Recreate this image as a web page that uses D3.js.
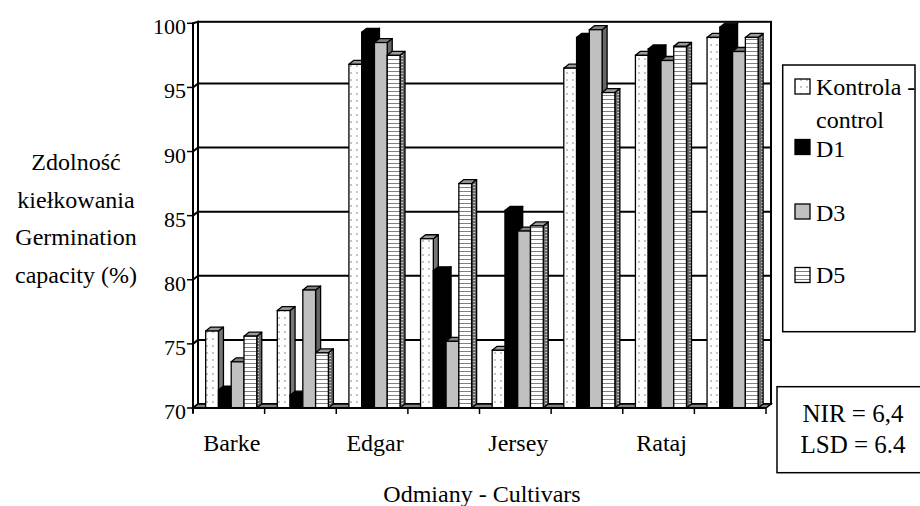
<!DOCTYPE html>
<html><head><meta charset="utf-8">
<script src="https://d3js.org/d3.v7.min.js"></script>
</head><body style="margin:0">
<svg id="chart" width="920" height="506"></svg>
<script>
// ---- data ----
const categoryLabels = ["Barke", "", "Edgar", "", "Jersey", "", "Rataj", ""];
const seriesNames = ["Kontrola - control", "D1", "D3", "D5"];
const kontrola = [76.0, 77.6, 96.8, 83.2, 74.5, 96.5, 97.5, 98.9];
const d1 = [71.4, 71.0, 99.3, 80.7, 85.4, 98.9, 98.0, 99.7];
const d3v = [73.6, 79.2, 98.5, 75.2, 83.8, 99.5, 97.1, 97.8];
const d5 = [75.6, 74.3, 97.5, 87.5, 84.2, 94.6, 98.2, 98.9];
const yTicks = [70, 75, 80, 85, 90, 95, 100];
const nirText = ["NIR = 6,4", "LSD = 6.4"];
const yTitle = ["Zdolność", "kiełkowania", "Germination", "capacity (%)"];
const xTitle = "Odmiany - Cultivars";

const seriesValues = [kontrola, d1, d3v, d5];
const famName = ["Liberation", "Serif"].join(" ");
const FONT = `'${famName}', serif`;

const svg = d3.select("#chart");
const defs = svg.append("defs");
function txt(sel, size) {
  return sel.attr("font-family", FONT).style("font-family", FONT, "important").attr("font-size", size);
}

// patterns
const pDots = defs.append("pattern").attr("id","dots").attr("patternUnits","userSpaceOnUse")
  .attr("width",6).attr("height",7);
pDots.append("rect").attr("width",6).attr("height",7).attr("fill","#fff");
pDots.append("rect").attr("x",2.5).attr("y",2).attr("width",1).attr("height",2).attr("fill","#8a8a8a");

const pStripes = defs.append("pattern").attr("id","stripes").attr("patternUnits","userSpaceOnUse")
  .attr("width",4).attr("height",4);
pStripes.append("rect").attr("width",4).attr("height",4).attr("fill","#fff");
pStripes.append("rect").attr("y",3).attr("width",4).attr("height",1.2).attr("fill","#808080");

const pSide = defs.append("pattern").attr("id","stripeSide").attr("patternUnits","userSpaceOnUse")
  .attr("width",4).attr("height",3);
pSide.append("rect").attr("width",4).attr("height",3).attr("fill","#6a6a6a");
pSide.append("rect").attr("x",1.5).attr("y",1).attr("width",1.2).attr("height",1).attr("fill","#fff");

const styles = [
  {front:"url(#dots)", top:"#9a9a9a", side:"#777"},
  {front:"#000", top:"#000", side:"#000"},
  {front:"#c0c0c0", top:"#808080", side:"#666"},
  {front:"url(#stripes)", top:"#9a9a9a", side:"url(#stripeSide)"}
];

// ---- scales ----
const left = 193, right = 766, depthX = 5, depthY = 4;
const y = d3.scaleLinear().domain([70, 100]).range([408, 23.3]);
const y0 = y(70);
const x0 = d3.scaleBand().domain(d3.range(categoryLabels.length)).range([left, right]).padding(0);
const bw = x0.bandwidth();
const xs = d3.scaleBand().domain(d3.range(seriesNames.length)).range([bw*0.177, bw*0.89]).padding(0);
const barW = xs.bandwidth();

const backTop = y(100) - 1.5;

// left wall
svg.append("polygon")
  .attr("points", [[left, y(100)], [left+depthX, backTop], [left+depthX, y0-depthY], [left, y0]].join(" "))
  .attr("fill","#fff").attr("stroke","#000").attr("stroke-width",2);
// back wall
svg.append("rect").attr("x", left+depthX).attr("y", backTop)
  .attr("width", right+depthX-(left+depthX)).attr("height", y0-depthY-backTop)
  .attr("fill","#fff").attr("stroke","#000").attr("stroke-width",2);

// gridlines
const gridVals = yTicks.filter(v => v > 70 && v < 100);
svg.append("g").selectAll("line.gb").data(gridVals).join("line")
  .attr("x1", left+depthX).attr("x2", right+depthX)
  .attr("y1", d => y(d)-depthY).attr("y2", d => y(d)-depthY)
  .attr("stroke","#000").attr("stroke-width",2);
svg.append("g").selectAll("line.gl").data(gridVals).join("line")
  .attr("x1", left).attr("x2", left+depthX)
  .attr("y1", d => y(d)).attr("y2", d => y(d)-depthY)
  .attr("stroke","#000").attr("stroke-width",2);

// floor
svg.append("polygon")
  .attr("points", [[left, y0], [left+depthX, y0-depthY], [right+depthX, y0-depthY], [right, y0]].join(" "))
  .attr("fill","#808080").attr("stroke","#000").attr("stroke-width",1.5);

// bars
const bars = svg.append("g");
categoryLabels.forEach((lab, ci) => {
  seriesValues.forEach((vals, si) => {
    const v = vals[ci];
    const bx = x0(ci) + xs(si);
    const by = y(v);
    const st = styles[si];
    const g = bars.append("g");
    g.append("polygon")
      .attr("points", [[bx+barW, by], [bx+barW+depthX, by-depthY], [bx+barW+depthX, y0-depthY], [bx+barW, y0]].join(" "))
      .attr("fill", st.side).attr("stroke","#000").attr("stroke-width",1.3).attr("stroke-linejoin","round");
    g.append("polygon")
      .attr("points", [[bx, by], [bx+depthX, by-depthY], [bx+barW+depthX, by-depthY], [bx+barW, by]].join(" "))
      .attr("fill", st.top).attr("stroke","#000").attr("stroke-width",1.3).attr("stroke-linejoin","round");
    g.append("rect").attr("x", bx).attr("y", by).attr("width", barW).attr("height", y0-by)
      .attr("fill", st.front).attr("stroke","#000").attr("stroke-width",1.3);
  });
});

// y axis
svg.append("line").attr("x1",left).attr("x2",left).attr("y1",y(100)).attr("y2",y0+5)
  .attr("stroke","#000").attr("stroke-width",2);
svg.append("g").selectAll("line").data(yTicks).join("line")
  .attr("x1", left-6).attr("x2", left).attr("y1", d=>y(d)).attr("y2", d=>y(d))
  .attr("stroke","#000").attr("stroke-width",1.5);
txt(svg.append("g").selectAll("text").data(yTicks).join("text")
  .attr("x", 186).attr("y", d => y(d)+11).attr("text-anchor","end"), 22).text(d => d);

// x axis
svg.append("line").attr("x1",left).attr("x2",right).attr("y1",y0).attr("y2",y0)
  .attr("stroke","#000").attr("stroke-width",2);
const bounds = d3.range(categoryLabels.length+1).map(i => left + i*bw);
svg.append("g").selectAll("line").data(bounds).join("line")
  .attr("x1", d=>d).attr("x2", d=>d).attr("y1", y0).attr("y2", y0+6)
  .attr("stroke","#000").attr("stroke-width",1.5);
txt(svg.append("g").selectAll("text").data(categoryLabels.map((l,i)=>({l,i})).filter(d=>d.l)).join("text")
  .attr("x", d => x0(d.i) + bw/2 + 3).attr("y", 451).attr("text-anchor","middle"), 24).text(d => d.l);

// axis titles
txt(svg.append("text").attr("x", 482).attr("y", 502).attr("text-anchor","middle"), 24).text(xTitle);
txt(svg.append("g").selectAll("text").data(yTitle).join("text")
  .attr("x", 76).attr("y", (d,i) => 170 + i*37.5).attr("text-anchor","middle"), 24).text(d => d);

// legend
svg.append("rect").attr("x",782.7).attr("y",65).attr("width",132.3).attr("height",266.7)
  .attr("fill","#fff").attr("stroke","#000").attr("stroke-width",1.5);
const legendItems = [
  {si:0, sy:79, lines:["Kontrola -", "control"], ty:95},
  {si:1, sy:139.5, lines:["D1"], ty:156.5},
  {si:2, sy:204, lines:["D3"], ty:220.5},
  {si:3, sy:267.5, lines:["D5"], ty:283}
];
const lg = svg.append("g");
legendItems.forEach(it => {
  lg.append("rect").attr("x",795).attr("y",it.sy).attr("width",15).attr("height",15)
    .attr("fill", styles[it.si].front).attr("stroke","#000").attr("stroke-width",1.3);
  it.lines.forEach((t, k) => {
    txt(lg.append("text").attr("x",816).attr("y", it.ty + k*33), 24).text(t);
  });
});

// NIR / LSD box
svg.append("rect").attr("x",777).attr("y",386.7).attr("width",160).attr("height",86)
  .attr("fill","#fff").attr("stroke","#000").attr("stroke-width",1.5);
txt(svg.append("g").selectAll("text").data(nirText).join("text")
  .attr("x", 853).attr("y", (d,i) => 421.5 + i*31.5).attr("text-anchor","middle"), 25).text(d => d);
</script>
</body></html>
